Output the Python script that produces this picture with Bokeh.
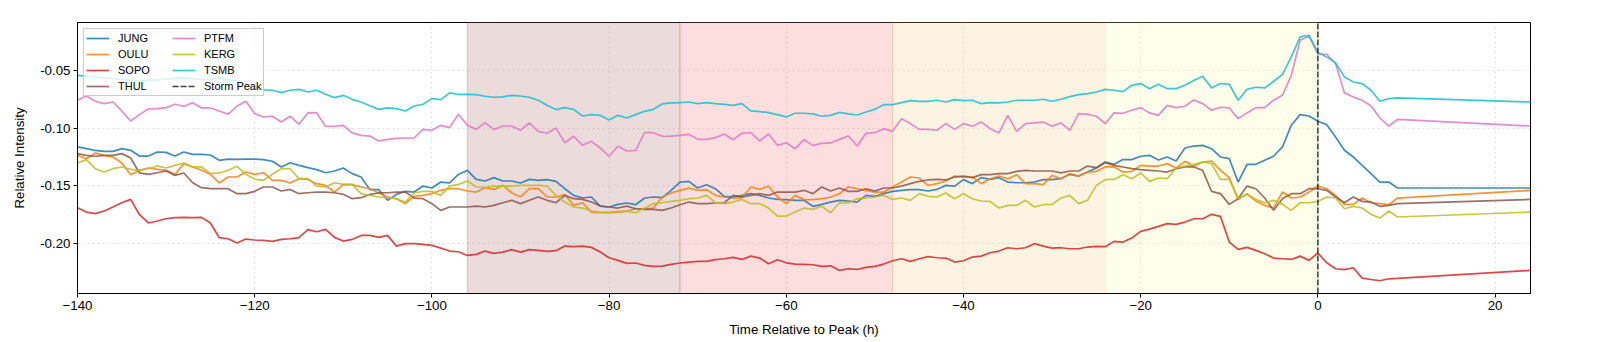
from bokeh.plotting import figure
from bokeh.models import BoxAnnotation, Range1d, PrintfTickFormatter
from bokeh.embed import file_html
from bokeh.resources import INLINE

HOURS = list(range(-140, 10)) + [24]

JUNG = [
    -0.1161, -0.1176, -0.1190, -0.1199, -0.1199, -0.1176, -0.1190, -0.1240, -0.1240, -0.1205,
    -0.1208, -0.1240, -0.1205, -0.1225, -0.1225, -0.1231, -0.1277, -0.1266, -0.1269, -0.1266,
    -0.1266, -0.1271, -0.1285, -0.1335, -0.1298, -0.1321, -0.1341, -0.1358, -0.1385, -0.1370,
    -0.1344, -0.1393, -0.1422, -0.1532, -0.1532, -0.1625, -0.1573, -0.1547, -0.1553, -0.1501,
    -0.1518, -0.1466, -0.1474, -0.1400, -0.1364, -0.1443, -0.1457, -0.1428, -0.1457, -0.1457,
    -0.1474, -0.1443, -0.1451, -0.1445, -0.1460, -0.1524, -0.1582, -0.1605, -0.1596, -0.1675,
    -0.1683, -0.1660, -0.1648, -0.1663, -0.1605, -0.1596, -0.1602, -0.1538, -0.1466, -0.1460,
    -0.1518, -0.1489, -0.1524, -0.1590, -0.1596, -0.1582, -0.1567, -0.1582, -0.1605, -0.1617,
    -0.1619, -0.1625, -0.1625, -0.1677, -0.1660, -0.1640, -0.1625, -0.1631, -0.1640, -0.1582,
    -0.1590, -0.1567, -0.1547, -0.1538, -0.1532, -0.1532, -0.1544, -0.1530, -0.1495, -0.1501,
    -0.1445, -0.1480, -0.1428, -0.1443, -0.1428, -0.1466, -0.1472, -0.1472, -0.1466, -0.1445,
    -0.1445, -0.1437, -0.1399, -0.1414, -0.1379, -0.1344, -0.1292, -0.1312, -0.1271, -0.1271,
    -0.1242, -0.1234, -0.1274, -0.1248, -0.1283, -0.1170, -0.1153, -0.1147, -0.1176, -0.1248,
    -0.1263, -0.1466, -0.1312, -0.1312, -0.1277, -0.1242, -0.1161, -0.0973, -0.0880, -0.0892,
    -0.0938, -0.0967, -0.1074, -0.1190, -0.1248, -0.1321, -0.1393, -0.1466, -0.1466, -0.1518,
    -0.1518,
]

OULU = [
    -0.1234, -0.1263, -0.1213, -0.1234, -0.1248, -0.1300, -0.1402, -0.1364, -0.1344, -0.1356,
    -0.1364, -0.1399, -0.1306, -0.1335, -0.1364, -0.1399, -0.1474, -0.1422, -0.1422, -0.1379,
    -0.1399, -0.1385, -0.1451, -0.1451, -0.1474, -0.1437, -0.1443, -0.1480, -0.1495, -0.1553,
    -0.1489, -0.1489, -0.1509, -0.1524, -0.1561, -0.1596, -0.1611, -0.1654, -0.1588, -0.1582,
    -0.1567, -0.1538, -0.1524, -0.1524, -0.1544, -0.1553, -0.1515, -0.1530, -0.1495, -0.1559,
    -0.1596, -0.1524, -0.1524, -0.1596, -0.1596, -0.1576, -0.1669, -0.1646, -0.1727, -0.1733,
    -0.1733, -0.1727, -0.1718, -0.1698, -0.1698, -0.1692, -0.1596, -0.1561, -0.1538, -0.1518,
    -0.1538, -0.1532, -0.1582, -0.1596, -0.1605, -0.1602, -0.1509, -0.1530, -0.1501, -0.1596,
    -0.1654, -0.1582, -0.1619, -0.1619, -0.1611, -0.1596, -0.1567, -0.1509, -0.1524, -0.1538,
    -0.1553, -0.1553, -0.1509, -0.1466, -0.1422, -0.1431, -0.1495, -0.1480, -0.1457, -0.1414,
    -0.1422, -0.1422, -0.1480, -0.1437, -0.1414, -0.1437, -0.1402, -0.1480, -0.1480, -0.1489,
    -0.1408, -0.1437, -0.1393, -0.1416, -0.1379, -0.1373, -0.1335, -0.1335, -0.1379, -0.1373,
    -0.1321, -0.1327, -0.1327, -0.1306, -0.1344, -0.1286, -0.1329, -0.1292, -0.1283, -0.1364,
    -0.1428, -0.1619, -0.1567, -0.1631, -0.1669, -0.1692, -0.1553, -0.1605, -0.1596, -0.1553,
    -0.1501, -0.1524, -0.1582, -0.1660, -0.1660, -0.1605, -0.1646, -0.1654, -0.1663, -0.1605,
    -0.1538,
]

SOPO = [
    -0.1689, -0.1727, -0.1741, -0.1718, -0.1683, -0.1646, -0.1617, -0.1750, -0.1822, -0.1805,
    -0.1785, -0.1776, -0.1773, -0.1776, -0.1773, -0.1822, -0.1950, -0.1959, -0.1996, -0.1962,
    -0.1970, -0.1973, -0.1982, -0.1965, -0.1959, -0.1950, -0.1880, -0.1898, -0.1878, -0.1947,
    -0.1979, -0.1965, -0.1930, -0.1930, -0.1947, -0.1930, -0.2023, -0.2002, -0.2002, -0.2008,
    -0.2017, -0.2040, -0.2066, -0.2072, -0.2104, -0.2095, -0.2066, -0.2086, -0.2075, -0.2054,
    -0.2075, -0.2054, -0.2060, -0.2069, -0.2063, -0.2023, -0.2028, -0.2023, -0.2034, -0.2075,
    -0.2124, -0.2147, -0.2173, -0.2170, -0.2191, -0.2199, -0.2197, -0.2182, -0.2170, -0.2162,
    -0.2156, -0.2156, -0.2141, -0.2133, -0.2121, -0.2139, -0.2110, -0.2127, -0.2176, -0.2141,
    -0.2168, -0.2179, -0.2182, -0.2185, -0.2199, -0.2194, -0.2234, -0.2220, -0.2226, -0.2208,
    -0.2199, -0.2179, -0.2150, -0.2133, -0.2156, -0.2133, -0.2115, -0.2124, -0.2127, -0.2162,
    -0.2150, -0.2118, -0.2110, -0.2081, -0.2066, -0.2037, -0.2046, -0.2037, -0.2002, -0.2023,
    -0.2040, -0.2037, -0.2046, -0.2046, -0.2031, -0.2025, -0.2028, -0.1982, -0.1988, -0.1953,
    -0.1895, -0.1875, -0.1851, -0.1828, -0.1834, -0.1814, -0.1785, -0.1785, -0.1747, -0.1764,
    -0.1988, -0.2052, -0.2034, -0.2060, -0.2089, -0.2127, -0.2133, -0.2139, -0.2110, -0.2147,
    -0.2083, -0.2168, -0.2220, -0.2228, -0.2211, -0.2301, -0.2313, -0.2324, -0.2307, -0.2304,
    -0.2234,
]

THUL = [
    -0.1219, -0.1234, -0.1242, -0.1234, -0.1234, -0.1219, -0.1257, -0.1387, -0.1399, -0.1385,
    -0.1370, -0.1408, -0.1387, -0.1472, -0.1515, -0.1524, -0.1524, -0.1524, -0.1567, -0.1567,
    -0.1547, -0.1509, -0.1509, -0.1544, -0.1530, -0.1567, -0.1559, -0.1553, -0.1553, -0.1559,
    -0.1573, -0.1611, -0.1602, -0.1573, -0.1561, -0.1559, -0.1553, -0.1553, -0.1605, -0.1611,
    -0.1654, -0.1712, -0.1683, -0.1683, -0.1683, -0.1675, -0.1683, -0.1669, -0.1646, -0.1625,
    -0.1654, -0.1625, -0.1596, -0.1625, -0.1646, -0.1582, -0.1611, -0.1617, -0.1640, -0.1675,
    -0.1683, -0.1692, -0.1675, -0.1698, -0.1704, -0.1704, -0.1712, -0.1692, -0.1663, -0.1640,
    -0.1654, -0.1654, -0.1648, -0.1646, -0.1582, -0.1596, -0.1582, -0.1567, -0.1582, -0.1553,
    -0.1553, -0.1553, -0.1538, -0.1567, -0.1509, -0.1544, -0.1518, -0.1547, -0.1547, -0.1524,
    -0.1544, -0.1518, -0.1518, -0.1501, -0.1480, -0.1460, -0.1448, -0.1443, -0.1448, -0.1422,
    -0.1414, -0.1428, -0.1402, -0.1402, -0.1393, -0.1393, -0.1373, -0.1364, -0.1370, -0.1370,
    -0.1370, -0.1387, -0.1370, -0.1370, -0.1327, -0.1341, -0.1297, -0.1321, -0.1335, -0.1350,
    -0.1358, -0.1364, -0.1370, -0.1379, -0.1350, -0.1335, -0.1335, -0.1364, -0.1547, -0.1567,
    -0.1660, -0.1611, -0.1501, -0.1524, -0.1605, -0.1712, -0.1611, -0.1567, -0.1567, -0.1524,
    -0.1524, -0.1538, -0.1596, -0.1646, -0.1596, -0.1634, -0.1640, -0.1677, -0.1669, -0.1654,
    -0.1617,
]

PTFM = [
    -0.0755, -0.0718, -0.0764, -0.0784, -0.0770, -0.0848, -0.0935, -0.0880, -0.0831, -0.0828,
    -0.0819, -0.0790, -0.0807, -0.0776, -0.0822, -0.0822, -0.0848, -0.0877, -0.0807, -0.0764,
    -0.0871, -0.0900, -0.0894, -0.0944, -0.0894, -0.0964, -0.0863, -0.0865, -0.0981, -0.0981,
    -0.0973, -0.1039, -0.1060, -0.1066, -0.1109, -0.1095, -0.1086, -0.1083, -0.1083, -0.1008,
    -0.1016, -0.0973, -0.0993, -0.0877, -0.0973, -0.1008, -0.0950, -0.1010, -0.0979, -0.0979,
    -0.1016, -0.0952, -0.1025, -0.1042, -0.0996, -0.1124, -0.1068, -0.1147, -0.1112, -0.1170,
    -0.1242, -0.1155, -0.1196, -0.1190, -0.1037, -0.1037, -0.1068, -0.1066, -0.1060, -0.1051,
    -0.1095, -0.1095, -0.1080, -0.1048, -0.1098, -0.1042, -0.1037, -0.1109, -0.1048, -0.1147,
    -0.1124, -0.1176, -0.1098, -0.1147, -0.1129, -0.1126, -0.1095, -0.1066, -0.1153, -0.1042,
    -0.1037, -0.1002, -0.1025, -0.0915, -0.0958, -0.1008, -0.1008, -0.1016, -0.0958, -0.1008,
    -0.0958, -0.0981, -0.0944, -0.1002, -0.1039, -0.0886, -0.1025, -0.0958, -0.0952, -0.0944,
    -0.0981, -0.0952, -0.1016, -0.0871, -0.0877, -0.0894, -0.0958, -0.0865, -0.0868, -0.0842,
    -0.0819, -0.0865, -0.0886, -0.0799, -0.0819, -0.0807, -0.0752, -0.0784, -0.0842, -0.0816,
    -0.0822, -0.0915, -0.0865, -0.0819, -0.0819, -0.0755, -0.0712, -0.0538, -0.0233, -0.0196,
    -0.0355, -0.0355, -0.0436, -0.0691, -0.0726, -0.0755, -0.0805, -0.0909, -0.0979, -0.0922,
    -0.0979,
]

KERG = [
    -0.1300, -0.1271, -0.1350, -0.1379, -0.1350, -0.1335, -0.1356, -0.1364, -0.1350, -0.1326,
    -0.1344, -0.1321, -0.1300, -0.1335, -0.1335, -0.1393, -0.1387, -0.1364, -0.1329, -0.1399,
    -0.1440, -0.1451, -0.1399, -0.1350, -0.1350, -0.1437, -0.1437, -0.1501, -0.1509, -0.1472,
    -0.1486, -0.1486, -0.1567, -0.1582, -0.1596, -0.1602, -0.1611, -0.1640, -0.1561, -0.1547,
    -0.1547, -0.1582, -0.1501, -0.1486, -0.1457, -0.1509, -0.1515, -0.1501, -0.1501, -0.1501,
    -0.1495, -0.1495, -0.1495, -0.1501, -0.1582, -0.1640, -0.1683, -0.1692, -0.1718, -0.1727,
    -0.1727, -0.1721, -0.1721, -0.1733, -0.1692, -0.1654, -0.1646, -0.1634, -0.1625, -0.1611,
    -0.1605, -0.1582, -0.1646, -0.1654, -0.1640, -0.1617, -0.1654, -0.1654, -0.1692, -0.1762,
    -0.1762, -0.1727, -0.1692, -0.1704, -0.1675, -0.1733, -0.1646, -0.1648, -0.1611, -0.1605,
    -0.1596, -0.1582, -0.1617, -0.1605, -0.1625, -0.1567, -0.1590, -0.1596, -0.1561, -0.1611,
    -0.1567, -0.1611, -0.1631, -0.1634, -0.1692, -0.1669, -0.1669, -0.1625, -0.1683, -0.1663,
    -0.1660, -0.1605, -0.1582, -0.1654, -0.1625, -0.1495, -0.1445, -0.1443, -0.1402, -0.1437,
    -0.1387, -0.1460, -0.1431, -0.1437, -0.1344, -0.1327, -0.1312, -0.1292, -0.1306, -0.1443,
    -0.1443, -0.1611, -0.1573, -0.1617, -0.1646, -0.1625, -0.1660, -0.1712, -0.1646, -0.1646,
    -0.1634, -0.1596, -0.1605, -0.1698, -0.1677, -0.1692, -0.1747, -0.1779, -0.1718, -0.1770,
    -0.1727,
]

TSMB = [
    -0.0538, -0.0546, -0.0549, -0.0560, -0.0567, -0.0575, -0.0580, -0.0584, -0.0580, -0.0578,
    -0.0570, -0.0565, -0.0560, -0.0567, -0.0575, -0.0570, -0.0560, -0.0575, -0.0590, -0.0620,
    -0.0650, -0.0665, -0.0668, -0.0689, -0.0668, -0.0660, -0.0683, -0.0668, -0.0703, -0.0732,
    -0.0712, -0.0747, -0.0770, -0.0802, -0.0834, -0.0822, -0.0828, -0.0848, -0.0805, -0.0790,
    -0.0741, -0.0749, -0.0691, -0.0703, -0.0703, -0.0706, -0.0720, -0.0729, -0.0726, -0.0712,
    -0.0718, -0.0729, -0.0755, -0.0799, -0.0836, -0.0819, -0.0834, -0.0892, -0.0880, -0.0886,
    -0.0926, -0.0886, -0.0909, -0.0880, -0.0851, -0.0834, -0.0787, -0.0778, -0.0776, -0.0770,
    -0.0784, -0.0776, -0.0784, -0.0790, -0.0799, -0.0784, -0.0848, -0.0854, -0.0863, -0.0880,
    -0.0900, -0.0868, -0.0868, -0.0874, -0.0894, -0.0886, -0.0860, -0.0874, -0.0883, -0.0857,
    -0.0834, -0.0793, -0.0793, -0.0776, -0.0758, -0.0764, -0.0764, -0.0755, -0.0770, -0.0749,
    -0.0758, -0.0755, -0.0784, -0.0776, -0.0778, -0.0770, -0.0755, -0.0755, -0.0755, -0.0746,
    -0.0764, -0.0746, -0.0723, -0.0706, -0.0697, -0.0683, -0.0660, -0.0668, -0.0680, -0.0625,
    -0.0610, -0.0654, -0.0616, -0.0654, -0.0654, -0.0625, -0.0584, -0.0546, -0.0648, -0.0610,
    -0.0616, -0.0755, -0.0660, -0.0642, -0.0648, -0.0590, -0.0532, -0.0378, -0.0204, -0.0190,
    -0.0340, -0.0378, -0.0430, -0.0552, -0.0596, -0.0610, -0.0668, -0.0764, -0.0741, -0.0735,
    -0.0770,
]

STATIONS = ["JUNG", "OULU", "SOPO", "THUL", "PTFM", "KERG", "TSMB"]
SERIES = [JUNG, OULU, SOPO, THUL, PTFM, KERG, TSMB]
COLORS = ["#1f77b4", "#ff7f0e", "#d62728", "#8c564b", "#e377c2", "#bcbd22", "#17becf"]

PHASE_EDGES = [-96, -72, -48, -24, 0]
PHASE_COLORS = ["#b36f6f", "#f77b7f", "#f7cf8b", "#fffbab"]
PEAK_HOUR = 0

X_TICKS = [-140, -120, -100, -80, -60, -40, -20, 0, 20]
Y_TICKS = [-0.20, -0.15, -0.10, -0.05]
X_LIMITS = (-140, 24)
Y_LIMITS = (-0.2435, -0.0079)

FONT = "Liberation Sans"

for s in SERIES:
    assert len(s) == len(HOURS), len(s)

p = figure(
    frame_width=1453, frame_height=271,
    x_range=Range1d(*X_LIMITS), y_range=Range1d(*Y_LIMITS),
    output_backend="svg", toolbar_location=None,
    min_border_left=77, min_border_top=22, min_border_right=30, min_border_bottom=40,
)
p.background_fill_color = "white"
p.border_fill_color = "white"
p.outline_line_color = "black"
p.outline_line_width = 1
p.outline_line_alpha = 1

# phase bands
for i, c in enumerate(PHASE_COLORS):
    box = BoxAnnotation(left=PHASE_EDGES[i], right=PHASE_EDGES[i + 1],
                        fill_color=c, fill_alpha=0.25,
                        line_color=c, line_alpha=0.35, line_width=1,
                        level="underlay")
    p.add_layout(box)

for name, vals, col in zip(STATIONS, SERIES, COLORS):
    p.line(HOURS, vals, line_color=col, line_width=1.7, line_alpha=0.85, legend_label=name)

# storm peak vertical line (spans the full y range) + legend entry
p.line([PEAK_HOUR, PEAK_HOUR], list(Y_LIMITS), line_color="#222222", line_dash="6 2",
       line_width=1.6, line_alpha=0.85, legend_label="Storm Peak")

# axes
p.xaxis.ticker = X_TICKS
p.yaxis.ticker = Y_TICKS
p.yaxis.formatter = PrintfTickFormatter(format="%.2f")
p.xaxis.axis_label = "Time Relative to Peak (h)"
p.yaxis.axis_label = "Relative Intensity"
for ax in (p.xaxis, p.yaxis):
    ax.axis_label_text_font = FONT
    ax.axis_label_text_font_size = "13.3px"
    ax.axis_label_text_font_style = "normal"
    ax.axis_label_text_color = "black"
    ax.major_label_text_font = FONT
    ax.major_label_text_font_size = "13.3px"
    ax.major_label_text_color = "black"
    ax.axis_line_color = "black"
    ax.major_tick_line_color = "black"
    ax.major_tick_in = 0
    ax.major_tick_out = 4
    ax.minor_tick_line_color = None
    ax.major_label_standoff = 3
p.xaxis.axis_label_standoff = 9
p.yaxis.axis_label_standoff = 10

p.grid.grid_line_color = "#b0b0b0"
p.grid.grid_line_alpha = 0.5
p.grid.grid_line_dash = "2 3"
p.grid.grid_line_width = 0.8

leg = p.legend[0]
leg.location = "top_left"
leg.margin = 6
leg.ncols = 2
leg.padding = 2
leg.spacing = 2
leg.glyph_width = 23
leg.glyph_height = 14
leg.label_height = 14
leg.label_width = 52
leg.label_standoff = 9
leg.label_text_font = FONT
leg.label_text_font_size = "11px"
leg.label_text_color = "black"
leg.background_fill_color = "white"
leg.background_fill_alpha = 0.8
leg.border_line_color = "#cccccc"
leg.border_line_width = 1
leg.border_line_alpha = 1

open("out.html", "w").write(file_html(p, INLINE))
